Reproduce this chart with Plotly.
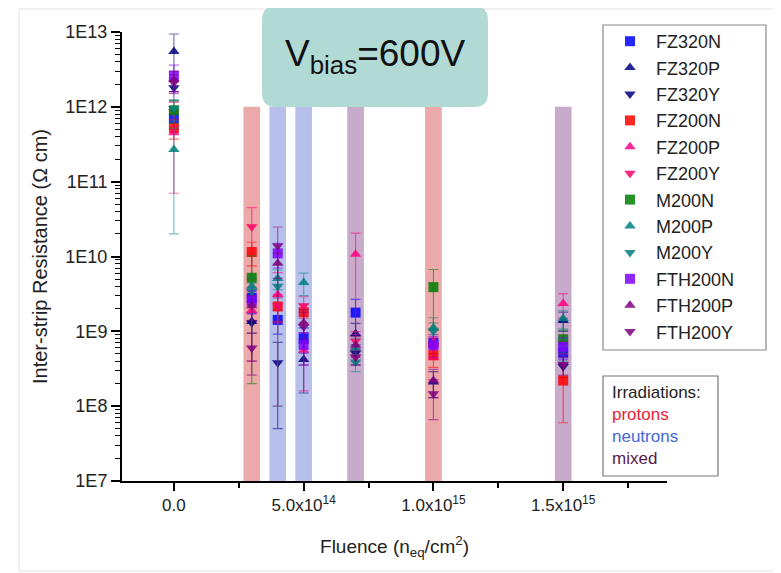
import plotly.graph_objects as go

# ---------------- data ----------------
fluence = [0, 3e14, 4e14, 5e14, 7e14, 1e15, 1.5e15]

series_names = ["FZ320N", "FZ320P", "FZ320Y", "FZ200N", "FZ200P", "FZ200Y",
                "M200N", "M200P", "M200Y", "FTH200N", "FTH200P", "FTH200Y"]

FZ320N = [7.0e11, 2.8e9, 1.42e9, 8.1e8, 1.78e9, 7.0e8, 5.2e8]
FZ320N_err = [2.0e11, 1.0e9, 5.0e8, 3.0e8, 9.0e8, 2.0e8, 1.5e8]
FZ320P = [5.5e12, 1.35e9, None, 4.2e8, 9.3e8, 2.1e8, 1.4e9]
FZ320P_err = [3.9e12, 4.0e8, 0, 2.7e8, 3.5e8, 8.0e7, 4.0e8]
FZ320Y = [1.8e12, 1.3e9, 3.8e8, None, 5.1e8, None, 3.4e8]
FZ320Y_err = [6.0e11, 9.0e8, 3.3e8, 0, 1.5e8, 0, 1.0e8]
FZ200N = [5.2e11, 1.15e10, 2.15e9, 1.8e9, None, 4.8e8, 2.2e8]
FZ200N_err = [1.5e11, 4.0e9, 8.0e8, 5.0e8, 0, 1.5e8, 1.6e8]
FZ200P = [4.5e11, 1.9e9, 3.1e9, 5.6e8, 1.07e10, 7.3e8, 2.35e9]
FZ200P_err = [3.8e11, 1.5e9, 3.0e9, 4.0e8, 9.8e9, 3.0e8, 8.5e8]
FZ200Y = [8.5e11, 2.5e10, 2.2e9, 2.2e9, 7.4e8, 6.2e8, 7.0e8]
FZ200Y_err = [3.0e11, 2.0e10, 9.0e8, 7.0e8, 2.5e8, 2.0e8, 2.0e8]
M200N = [9.0e11, 5.2e9, None, None, None, 3.9e9, 7.8e8]
M200N_err = [3.0e11, 5.0e9, 0, 0, 0, 2.8e9, 2.5e8]
M200P = [2.7e11, 4.0e9, 5.1e9, 4.5e9, 5.9e8, 1.12e9, 1.48e9]
M200P_err = [2.5e11, 1.2e9, 1.5e9, 1.5e9, 2.0e8, 4.0e8, 4.0e8]
M200Y = [9.5e11, 3.4e9, 4.0e9, None, 3.9e8, 1.0e9, 6.0e8]
M200Y_err = [3.0e11, 1.0e9, 3.9e9, 0, 1.0e8, 3.0e8, 2.0e8]
FTH200N = [2.6e12, 2.6e9, 1.1e10, 6.6e8, None, 6.5e8, 6.2e8]
FTH200N_err = [1.0e12, 9.0e8, 4.0e9, 3.0e8, 0, 2.0e8, 2.0e8]
FTH200P = [2.3e12, 2.2e9, 8.1e9, 1.3e9, 6.5e8, 2.2e8, None]
FTH200P_err = [7.0e11, 8.0e8, 3.0e9, 5.0e8, 2.0e8, 9.0e7, 0]
FTH200Y = [2.1e12, 6.0e8, 1.38e10, 1.15e9, 4.5e8, 1.46e8, 3.6e8]
FTH200Y_err = [6.0e11, 3.4e8, 1.1e10, 8.0e8, 1.0e8, 8.0e7, 1.0e8]

# irradiation bands
band_fluence = [3e14, 4e14, 5e14, 7e14, 1e15, 1.5e15]
band_type = ["protons", "neutrons", "neutrons", "mixed", "protons", "mixed"]
band_top = 1e12

y_tickvals = [1e7, 1e8, 1e9, 1e10, 1e11, 1e12, 1e13]
y_ticktext = ["1E7", "1E8", "1E9", "1E10", "1E11", "1E12", "1E13"]
x_tickvals = [0, 5e14, 1e15, 1.5e15]
x_ticktext = ["0.0", "5.0x10<sup>14</sup>", "1.0x10<sup>15</sup>", "1.5x10<sup>15</sup>"]
x_minor_vals = [2.5e14, 7.5e14, 1.25e15, 1.75e15]

# ---------------- style ----------------
values = {"FZ320N": (FZ320N, FZ320N_err), "FZ320P": (FZ320P, FZ320P_err),
          "FZ320Y": (FZ320Y, FZ320Y_err), "FZ200N": (FZ200N, FZ200N_err),
          "FZ200P": (FZ200P, FZ200P_err), "FZ200Y": (FZ200Y, FZ200Y_err),
          "M200N": (M200N, M200N_err), "M200P": (M200P, M200P_err),
          "M200Y": (M200Y, M200Y_err), "FTH200N": (FTH200N, FTH200N_err),
          "FTH200P": (FTH200P, FTH200P_err), "FTH200Y": (FTH200Y, FTH200Y_err)}
colors = {"FZ320N": "#0000ff", "FZ320P": "#00007f", "FZ320Y": "#00007f",
          "FZ200N": "#ff0000", "FZ200P": "#ff0080", "FZ200Y": "#ff0066",
          "M200N": "#007f00", "M200P": "#007f7f", "M200Y": "#007f7f",
          "FTH200N": "#7f00ff", "FTH200P": "#7f007f", "FTH200Y": "#7f007f"}
err_colors = {"FZ320N": "rgba(0,0,255,0.55)", "FZ320P": "rgba(0,0,127,0.55)",
              "FZ320Y": "rgba(0,0,127,0.55)", "FZ200N": "rgba(255,0,0,0.55)",
              "FZ200P": "rgba(255,0,128,0.55)", "FZ200Y": "rgba(255,0,102,0.55)",
              "M200N": "rgba(0,127,0,0.55)", "M200P": "rgba(0,127,127,0.5)",
              "M200Y": "rgba(0,127,127,0.5)", "FTH200N": "rgba(127,0,255,0.55)",
              "FTH200P": "rgba(127,0,127,0.55)", "FTH200Y": "rgba(127,0,127,0.55)"}
symbols = {"N": "square", "P": "triangle-up", "Y": "triangle-down"}
band_colors = {"protons": "#eba9aa", "neutrons": "#b6c0ea", "mixed": "#c8aacb"}

FONT = "Liberation Sans, Arial, Helvetica, sans-serif"

fig = go.Figure()

fig.add_trace(go.Bar(
    x=band_fluence, y=[band_top] * len(band_fluence), width=6.4e13,
    marker=dict(color=[band_colors[t] for t in band_type], line=dict(width=0)),
    showlegend=False, hoverinfo="skip"))

for name in series_names:
    vals, errs = values[name]
    fig.add_trace(go.Scatter(
        x=fluence, y=vals, mode="markers", name=name,
        marker=dict(symbol=symbols[name[-1]], size=10, color=colors[name],
                    opacity=0.85, line=dict(width=0)),
        error_y=dict(type="data", array=errs, visible=True,
                     color=err_colors[name], thickness=1.2, width=5)))

# ---------------- layout ----------------
# page body has an 8px margin, so figure coords = screen coords - 8
OFF = 8
W, H = 773, 565
L, R, T, B = 114, 114, 24, 92
PW, PH = W - L - R, H - T - B


def px(sx):
    return (sx - OFF - L) / PW


def py(sy):
    return (H - B - (sy - OFF)) / PH


def rounded_rect(x0, y0, x1, y1, r):
    pts = [("M", x0 + r, y0), ("L", x1 - r, y0), ("Q", x1, y0, x1, y0 + r),
           ("L", x1, y1 - r), ("Q", x1, y1, x1 - r, y1), ("L", x0 + r, y1),
           ("Q", x0, y1, x0, y1 - r), ("L", x0, y0 + r), ("Q", x0, y0, x0 + r, y0)]
    out = []
    for p in pts:
        cmd = p[0]
        coords = p[1:]
        s = cmd + " " + " ".join(
            f"{px(coords[i]):.5f},{py(coords[i + 1]):.5f}" for i in range(0, len(coords), 2))
        out.append(s)
    return " ".join(out) + " Z"


shapes = [
    # faint outer frame
    dict(type="rect", xref="paper", yref="paper", x0=px(19), x1=px(780),
         y0=py(571), y1=py(9), line=dict(color="#e2e2e2", width=1), layer="below"),
    # V bias box
    dict(type="path", xref="paper", yref="paper", path=rounded_rect(262, 6, 488, 107, 14),
         fillcolor="#b1dad4", line=dict(width=0), layer="above"),
    # legend frame
    dict(type="rect", xref="paper", yref="paper", x0=px(603), x1=px(766),
         y0=py(350), y1=py(25), fillcolor="white", line=dict(color="#888888", width=1.2),
         layer="above"),
    # irradiations box
    dict(type="rect", xref="paper", yref="paper", x0=px(603), x1=px(718),
         y0=py(476), y1=py(376), fillcolor="white", line=dict(color="#777777", width=1.2),
         layer="above"),
]

annotations = [
    dict(xref="paper", yref="paper", x=px(375), y=py(56), xanchor="center", yanchor="middle",
         text="V<sub>bias</sub>=600V", showarrow=False,
         font=dict(family=FONT, size=37, color="#111111")),
    dict(xref="paper", yref="paper", x=px(610), y=py(381), xanchor="left", yanchor="top",
         align="left", showarrow=False,
         text="Irradiations:<br><span style='color:#ee2233'>protons</span><br>"
              "<span style='color:#4466dd'>neutrons</span><br>"
              "<span style='color:#5a1a50'>mixed</span>",
         font=dict(family=FONT, size=17, color="#222222")),
]

fig.update_layout(
    width=W, height=H, autosize=False,
    margin=dict(l=L, r=R, t=T, b=B, pad=0),
    plot_bgcolor="white", paper_bgcolor="white",
    font=dict(family=FONT, color="#222222"),
    barmode="overlay",
    shapes=shapes, annotations=annotations,
    legend=dict(x=px(604), y=py(350), xanchor="left", yanchor="bottom",
                bgcolor="rgba(0,0,0,0)", borderwidth=0,
                font=dict(family=FONT, size=18, color="#222222"),
                itemwidth=42, traceorder="normal"),
    xaxis=dict(range=[-2e14, 1.9e15], showline=True, linecolor="black", linewidth=2,
               ticks="outside", ticklen=8, tickwidth=1.5, tickcolor="black",
               tickmode="array", tickvals=x_tickvals, ticktext=x_ticktext,
               tickfont=dict(family=FONT, size=17, color="#222222"),
               minor=dict(tickmode="array", tickvals=x_minor_vals, ticks="outside",
                          ticklen=5, tickwidth=1.5, tickcolor="black"),
               showgrid=False, zeroline=False,
               title=dict(text="Fluence (n<sub>eq</sub>/cm<sup>2</sup>)", standoff=25,
                          font=dict(family=FONT, size=19, color="#222222"))),
    yaxis=dict(type="log", range=[7, 13], showline=True, linecolor="black", linewidth=2,
               ticks="outside", ticklen=9, tickwidth=1.5, tickcolor="black",
               tickmode="array", tickvals=y_tickvals, ticktext=y_ticktext,
               tickfont=dict(family=FONT, size=18, color="#222222"),
               minor=dict(ticks="outside", ticklen=5, tickwidth=1, tickcolor="black",
                          dtick="D1", showgrid=False),
               showgrid=False, zeroline=False,
               title=dict(text="Inter-strip Resistance (\u03a9 cm)", standoff=12,
                          font=dict(family=FONT, size=20, color="#222222"))),
)

fig.write_html("out.html")
